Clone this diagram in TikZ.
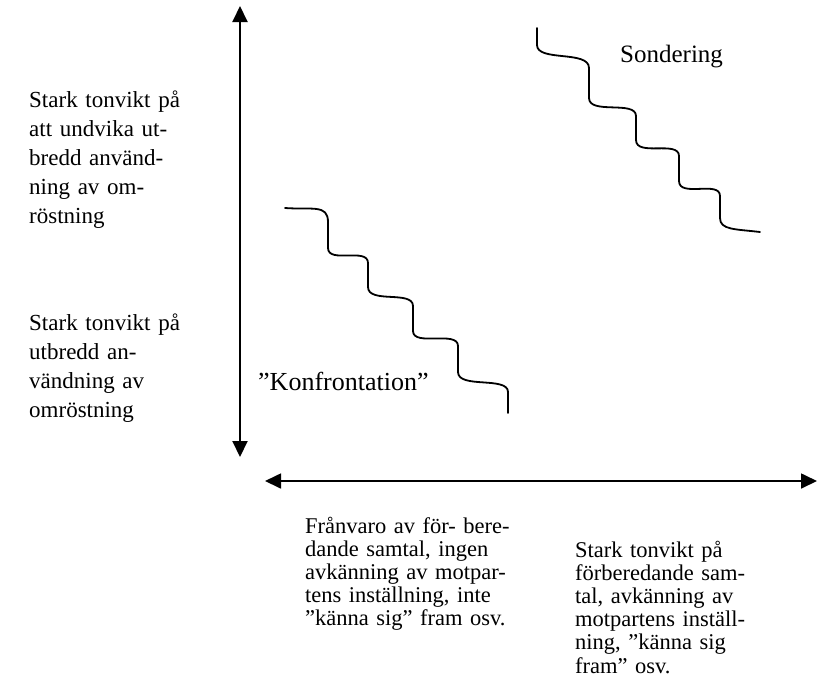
\documentclass[tikz,border=0pt]{standalone}
\usepackage{fontspec}
\setmainfont{Liberation Serif}
\usetikzlibrary{arrows.meta}
% a line of fixed width whose spaces are stretched (justified line)
\newcommand\jline[1]{\makebox[148pt][s]{#1}}
\begin{document}
\begin{tikzpicture}[x=1pt,y=-1pt,
  tip/.tip={Triangle[width=15pt,length=16pt]},
  axis/.style={line width=2pt,tip-tip},
  wave/.style={line width=1.8pt,line cap=round,line join=round},
  sidetext/.style={inner sep=0pt,anchor=base west,text width=148pt,align=left,
    font=\fontsize{23}{29}\selectfont},
  bodytext/.style={inner sep=0pt,anchor=base west,text width=240pt,align=left,
    font=\fontsize{22.5}{23.2}\selectfont},
  label/.style={inner sep=0pt,anchor=base west}]
\useasboundingbox (0,0) rectangle (818,694);

% axes
\coordinate (vtop) at (240,6);
\coordinate (vbot) at (240,457);
\draw[axis] (vtop) -- (vbot);
\coordinate (hleft) at (265,481);
\coordinate (hright) at (817,481);
\draw[axis,line width=1.7pt] (hleft) -- (hright);

% vertical scale descriptions
\node[sidetext] (voteavoid) at (29,107)
  {\jline{Stark tonvikt på}\\\jline{att undvika ut-}\\\jline{bredd använd-}\\\jline{ning av om-}\\röstning};
\node[sidetext] (voteuse) at (29,330)
  {\jline{Stark tonvikt på}\\\jline{utbredd an-}\\\jline{vändning av}\\omröstning};

% horizontal scale descriptions
\node[bodytext] (noprep) at (305,533)
  {Frånvaro av för- bere-\\dande samtal, ingen\\avkänning av motpar-\\tens inställning, inte\\”känna sig” fram osv.};
\node[bodytext] (prep) at (575,557)
  {Stark tonvikt på\\förberedande sam-\\tal, avkänning av\\motpartens inställ-\\ning, ”känna sig\\fram” osv.};

% stepped curve: probing
\coordinate (sstart) at (537,28);
\coordinate (send) at (760,232);
\draw[wave] (sstart) -- (537,45)
  .. controls (537,62) and (589,50) .. (589,68) -- (589,98)
  .. controls (589,115) and (636,100) .. (636,116) -- (636,140)
  .. controls (636,157) and (679,140) .. (679,156) -- (679,181)
  .. controls (679,198) and (720,180) .. (720,196) -- (720,218)
  .. controls (720,230) and (735,229) .. (send);
\node[label,font=\fontsize{25}{30}\selectfont] (probe) at (620,62) {Sondering};

% stepped curve: confrontation
\coordinate (kstart) at (285,208);
\coordinate (kend) at (508,413);
\draw[wave] (kstart)
  .. controls (312,210) and (328,204) .. (328,222) -- (328,248)
  .. controls (328,264) and (368,247) .. (368,263) -- (368,287)
  .. controls (368,304) and (413,290) .. (413,306) -- (413,331)
  .. controls (413,347) and (458,330) .. (458,346) -- (458,372)
  .. controls (458,389) and (508,376) .. (508,392) -- (kend);
\node[label,font=\fontsize{26}{30}\selectfont] (confront) at (258,390) {”Konfrontation”};
\end{tikzpicture}
\end{document}
